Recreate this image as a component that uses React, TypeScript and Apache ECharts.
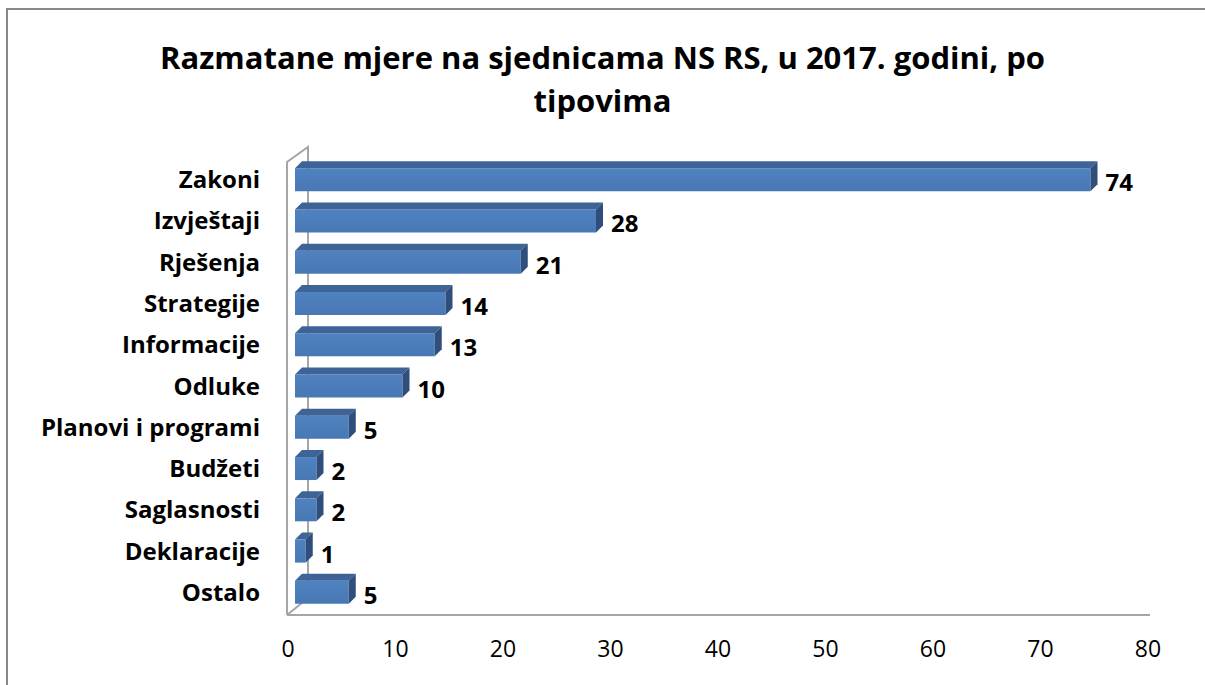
import React, { useEffect, useRef } from "react";
import * as echarts from "echarts";

const categories = [
  "Zakoni",
  "Izvještaji",
  "Rješenja",
  "Strategije",
  "Informacije",
  "Odluke",
  "Planovi i programi",
  "Budžeti",
  "Saglasnosti",
  "Deklaracije",
  "Ostalo",
];
const values = [74, 28, 21, 14, 13, 10, 5, 2, 2, 1, 5];
const titleText = "Razmatane mjere na sjednicama NS RS, u 2017. godini, po\ntipovima";

const FONT = "'Open Sans', sans-serif";

export default function App() {
  const ref = useRef<HTMLDivElement>(null);
  useEffect(() => {
    document.body.style.margin = "0";
    const chart = echarts.init(ref.current!, undefined, { renderer: "svg" });
    const depth = 7;
    const faceH = 23;
    const shift = 7;
    chart.setOption({
      animation: false,
      backgroundColor: "#ffffff",
      title: {
        text: titleText,
        left: "center",
        top: 30,
        textStyle: {
          fontFamily: FONT,
          fontWeight: "bold",
          fontSize: 31,
          lineHeight: 43,
          color: "#000",
        },
      },
      grid: { left: 288, right: 57, top: 158, bottom: 73 },
      xAxis: {
        type: "value",
        min: 0,
        max: 80,
        interval: 10,
        axisLine: { show: false },
        axisTick: { show: false },
        splitLine: { show: false },
        axisLabel: { fontFamily: FONT, fontSize: 23, color: "#000", margin: 24 },
      },
      yAxis: {
        type: "category",
        data: categories,
        inverse: true,
        axisLine: { show: false },
        axisTick: { show: false },
        axisLabel: {
          fontFamily: FONT,
          fontWeight: "bold",
          fontSize: 24,
          color: "#000",
          margin: 28,
          padding: [10, 0, 0, 0],
        },
      },
      graphic: [
        {
          type: "rect",
          shape: { x: 7, y: 9, width: 1300, height: 800 },
          style: { fill: "none", stroke: "#888888", lineWidth: 2 },
          silent: true,
        },
        {
          type: "polyline",
          shape: { points: [[287, 615], [287, 162], [308, 147], [308, 598], [287, 615]] },
          style: { fill: "none", stroke: "#a6a6a6", lineWidth: 2 },
          silent: true,
        },
        {
          type: "line",
          shape: { x1: 287, y1: 615, x2: 1150, y2: 615 },
          style: { stroke: "#a6a6a6", lineWidth: 2 },
          silent: true,
        },
      ],
      series: [
        {
          type: "custom",
          data: values.map((v, i) => [v, i]),
          encode: { x: 0, y: 1 },
          renderItem: (params: any, api: any) => {
            const v = api.value(0);
            const c = api.value(1);
            const p0 = api.coord([0, c]);
            const p1 = api.coord([v, c]);
            const x0 = p0[0] + shift;
            const x1 = p1[0] + shift;
            const yt = p0[1] - faceH / 2 + 1;
            const yb = yt + faceH;
            return {
              type: "group",
              children: [
                {
                  type: "rect",
                  shape: { x: x0, y: yt, width: x1 - x0, height: faceH },
                  style: {
                    fill: new echarts.graphic.LinearGradient(0, 0, 0, 1, [
                      { offset: 0, color: "#4f82c0" },
                      { offset: 1, color: "#4878b4" },
                    ]),
                  },
                },
                {
                  type: "polygon",
                  shape: { points: [[x0, yt], [x0 + depth, yt - depth], [x1 + depth, yt - depth], [x1, yt]] },
                  style: { fill: "#3e6497" },
                },
                {
                  type: "polygon",
                  shape: { points: [[x1, yt], [x1 + depth, yt - depth], [x1 + depth, yb - depth], [x1, yb]] },
                  style: { fill: "#2f4e7c" },
                },
                {
                  type: "text",
                  style: {
                    x: x1 + depth + 8,
                    y: p0[1] + 3,
                    text: String(v),
                    fontFamily: FONT,
                    fontWeight: "bold",
                    fontSize: 24,
                    fill: "#000",
                    verticalAlign: "middle",
                    align: "left",
                  },
                },
              ],
            };
          },
        },
      ],
    });
    return () => chart.dispose();
  }, []);
  return <div ref={ref} style={{ position: "absolute", left: 0, top: 0, width: 1205, height: 685 }} />;
}
